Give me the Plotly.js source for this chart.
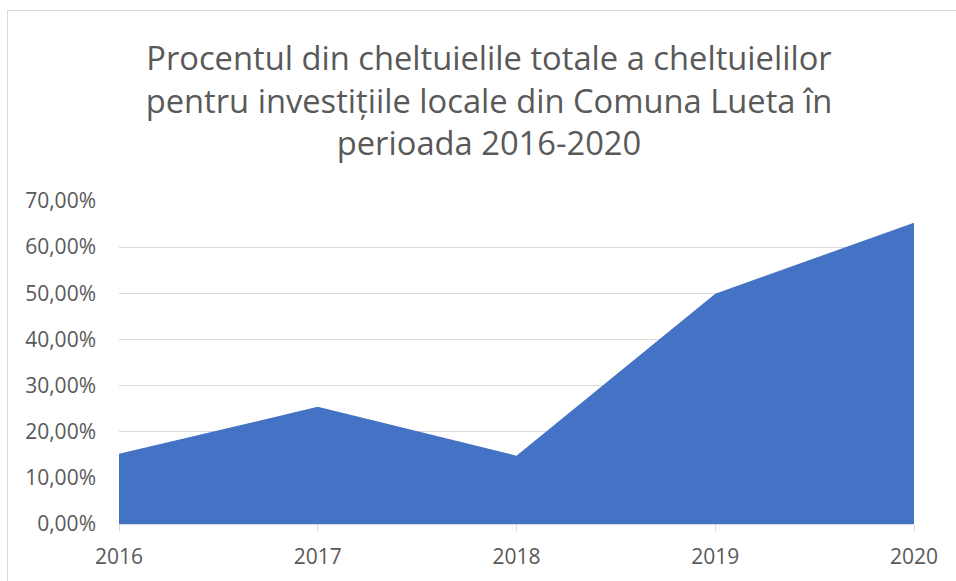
<!DOCTYPE html>
<html>
<head>
<meta charset="utf-8">
<script src="https://cdn.plot.ly/plotly-3.0.1.min.js"></script>
<style>
html, body { margin: 0; padding: 0; background: #ffffff; }
#chart { width: 956px; height: 581px; }
</style>
</head>
<body>
<div id="chart"></div>
<script>
const years = [2016, 2017, 2018, 2019, 2020];
const shares = [0.152, 0.254, 0.148, 0.499, 0.653];
const yTicks = [0, 0.1, 0.2, 0.3, 0.4, 0.5, 0.6, 0.7];
const titleText = 'Procentul din cheltuielile totale a cheltuielilor<br>pentru investițiile locale din Comuna Lueta în<br>perioada 2016-2020';

const textColor = '#595959';
const gridColor = '#d9d9d9';

const trace = {
  x: years,
  y: shares,
  type: 'scatter',
  mode: 'lines',
  fill: 'tozeroy',
  fillcolor: '#4472C4',
  line: { width: 0, color: '#4472C4' },
  hoverinfo: 'x+y'
};

const L = 119, R = 42, T = 201, B = 57;
const W = 956, H = 581;
const pw = W - L - R, ph = H - T - B;
function px2x(p) { return (p - L) / pw; }
function py2y(p) { return (H - B - p) / ph; }

const layout = {
  width: W,
  height: H,
  margin: { l: L, r: R, t: T, b: B, pad: 0 },
  paper_bgcolor: '#ffffff',
  plot_bgcolor: '#ffffff',
  separators: ',.',
  showlegend: false,
  font: { family: 'Open Sans, sans-serif', color: textColor, size: 21 },
  title: {
    text: titleText,
    font: { family: 'Open Sans, sans-serif', size: 32.7, color: textColor },
    xref: 'container',
    yref: 'container',
    x: 489 / W,
    xanchor: 'center',
    y: 1 - 70 / H,
    yanchor: 'top'
  },
  xaxis: {
    type: 'linear',
    range: [2016, 2020],
    tickvals: years,
    ticktext: years.map(String),
    showgrid: false,
    zeroline: false,
    showline: true,
    linecolor: gridColor,
    linewidth: 1,
    ticks: 'outside',
    ticklen: 6,
    tickcolor: gridColor,
    tickwidth: 1,
    ticklabelstandoff: 8,
    tickfont: { size: 21, color: textColor },
    fixedrange: true
  },
  yaxis: {
    range: [0, 0.7],
    tickvals: yTicks,
    tickformat: '.2%',
    showgrid: true,
    gridcolor: gridColor,
    gridwidth: 1,
    zeroline: false,
    showline: false,
    ticks: '',
    ticklabelstandoff: 22,
    tickfont: { size: 21, color: textColor },
    fixedrange: true
  },
  shapes: [{
    type: 'rect',
    xref: 'paper',
    yref: 'paper',
    x0: px2x(7.5),
    x1: px2x(980),
    y0: py2y(600),
    y1: py2y(10.5),
    line: { color: gridColor, width: 1 },
    fillcolor: 'rgba(0,0,0,0)',
    layer: 'below'
  }]
};

Plotly.newPlot('chart', [trace], layout, { displayModeBar: false, staticPlot: true });
</script>
</body>
</html>
